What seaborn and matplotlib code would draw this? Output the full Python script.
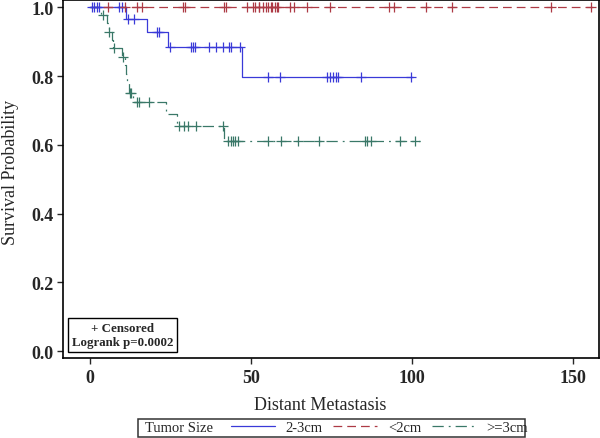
import numpy as np
import pandas as pd
import matplotlib
matplotlib.use("Agg")
import matplotlib.pyplot as plt
from matplotlib.lines import Line2D
from matplotlib.patches import Rectangle
import seaborn as sns

# ---- data ----
groups = ["2-3cm", "<2cm", ">=3cm"]

# 2-3cm
blue_times = [0, 11.1, 17.7, 24.3, 47.1]
blue_surv = [1.0, 0.965, 0.927, 0.883, 0.796]
blue_end = 100.3
blue_censor = [0.5, 1.3, 2.1, 2.9, 9.1, 10.0, 11.8, 13.7, 20.7, 21.3, 24.8, 31.3, 31.9,
               32.5, 36.9, 39.3, 41.4, 43.3, 43.9, 46.6, 55.4, 59.0, 73.7, 74.5, 75.4,
               76.4, 77.0, 84.1, 99.6]

# <2cm
red_times = [0]
red_surv = [1.0]
red_end = 156.2
red_censor = [5.5, 10.9, 14.5, 16.0, 29.0, 29.6, 41.7, 42.3, 48.7, 50.5, 51.2, 52.4, 52.6,
              53.8, 54.7, 55.4, 56.1, 56.7, 57.5, 58.0, 58.5, 62.1, 63.5, 67.3, 74.5,
              93.0, 94.4, 104.3, 112.6, 143.4, 155.8]

# >=3cm
green_times = [0, 3.5, 5.3, 5.8, 6.8, 7.2, 9.8, 10.8, 11.2, 11.6, 12.0, 13.3, 23.6, 26.9, 41.7]
green_surv = [1.0, 0.977, 0.953, 0.929, 0.905, 0.880, 0.856, 0.832, 0.806, 0.780, 0.752,
              0.723, 0.691, 0.655, 0.611]
green_end = 102.5
green_censor = [4.1, 6.0, 7.5, 10.3, 12.4, 12.7, 14.5, 15.2, 18.4, 27.7, 29.2, 30.5, 32.9,
                41.4, 42.9, 43.7, 44.5, 45.2, 46.1, 55.4, 59.2, 64.7, 71.1, 85.4, 86.1,
                87.2, 96.3, 101.1]

colors = {"2-3cm": "#3a3ad8", "<2cm": "#ad3a45", ">=3cm": "#3a7868"}
styles = {"2-3cm": "-", "<2cm": (0, (7, 4)), ">=3cm": (0, (9, 4, 1.5, 4))}

curves = {
    "2-3cm": (blue_times, blue_surv, blue_end, blue_censor),
    "<2cm": (red_times, red_surv, red_end, red_censor),
    ">=3cm": (green_times, green_surv, green_end, green_censor),
}

sns.set_style("white")
plt.rcParams["font.family"] = ["Liberation Serif", "DejaVu Serif"]

fig = plt.figure(figsize=(6, 4.39), dpi=100)
ax = fig.add_axes([0.105, 0.182, 0.893, 0.815])

for g in groups:
    times, surv, end, cens = curves[g]
    line = pd.DataFrame({"t": list(times) + [end], "s": list(surv) + [surv[-1]]})
    sns.lineplot(data=line, x="t", y="s", drawstyle="steps-post", color=colors[g],
                 linestyle=styles[g], linewidth=0.9, estimator=None, ax=ax)
    idx = np.searchsorted(times, cens, side="right") - 1
    cdf = pd.DataFrame({"t": cens, "s": np.array(surv)[idx]})
    sns.scatterplot(data=cdf, x="t", y="s", marker="+", color=colors[g], s=45,
                    linewidth=0.9, ax=ax, zorder=3)

ax.set_xlim(-8.4, 158.1)
ax.set_ylim(-0.02, 1.02)
ax.set_xticks([0, 50, 100, 150])
ax.set_yticks([0.0, 0.2, 0.4, 0.6, 0.8, 1.0])
ax.set_yticklabels(["0.0", "0.2", "0.4", "0.6", "0.8", "1.0"])
for s in ax.spines.values():
    s.set_color("black")
    s.set_linewidth(1.2)
ax.tick_params(axis="both", direction="out", length=4.5, width=1, labelsize=13,
               left=True, bottom=True)
ax.tick_params(axis="y", pad=2)
ax.tick_params(axis="x", pad=3)
for lab in ax.get_xticklabels() + ax.get_yticklabels():
    lab.set_fontweight("bold")

ax.set_xlabel("Distant Metastasis", fontsize=13)
ax.set_ylabel("Survival Probability", fontsize=13)
ax.xaxis.set_label_coords(0.48, -0.105)
ax.yaxis.set_label_coords(-0.082, 0.522)

ax.text(0.016, 0.0285, "+ Censored\nLogrank p=0.0002", transform=ax.transAxes,
        ha="left", va="bottom", multialignment="center", fontsize=9.3,
        fontweight="bold", linespacing=1.25,
        bbox=dict(boxstyle="square,pad=0.3", fc="white", ec="black", lw=1))

# legend strip below the plot
fig.patches.append(Rectangle((0.23, 0.003), 0.645, 0.041, transform=fig.transFigure,
                             fill=False, ec="#333333", lw=1.1))
fig.text(0.241, 0.023, "Tumor Size", fontsize=10.5, ha="left", va="center")
handles = [Line2D([], [], color=colors[g], linestyle=styles[g], linewidth=0.9) for g in groups]
fig.legend(handles, groups, loc="center left", bbox_to_anchor=(0.385, 0.024), ncol=3,
           frameon=False, fontsize=10.5, handlelength=3.0, handletextpad=0.75,
           columnspacing=0.72, borderpad=0, borderaxespad=0)

fig.savefig("out.png", dpi=100)
